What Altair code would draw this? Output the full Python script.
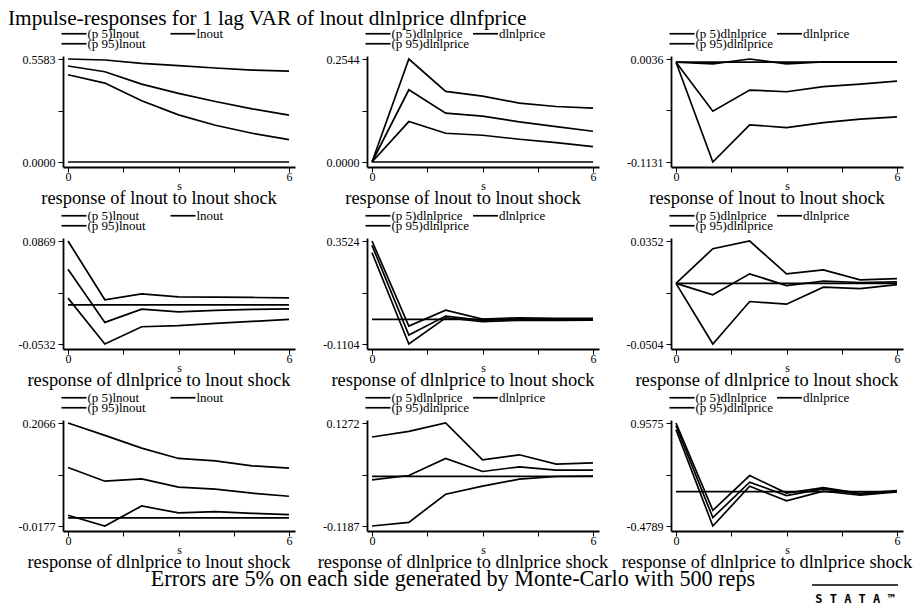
import altair as alt
import pandas as pd

steps = [0, 1, 2, 3, 4, 5, 6]

# panel order: row by row
resp_vars = ["lnout", "dlnlprice", "dlnlprice",
             "lnout", "dlnlprice", "dlnlprice",
             "lnout", "dlnlprice", "dlnlprice"]
panel_titles = ["response of lnout to lnout shock",
                "response of lnout to lnout shock",
                "response of lnout to lnout shock",
                "response of dlnlprice to lnout shock",
                "response of dlnlprice to lnout shock",
                "response of dlnlprice to lnout shock",
                "response of dlnlprice to lnout shock",
                "response of dlnlprice to dlnlprice shock",
                "response of dlnlprice to dlnlprice shock"]
y_min = [0.0000, 0.0000, -0.1131, -0.0532, -0.1104, -0.0504, -0.0177, -0.1187, -0.4789]
y_max = [0.5583, 0.2544, 0.0036, 0.0869, 0.3524, 0.0352, 0.2066, 0.1272, 0.9575]

p1_lo = [0.4731, 0.4278, 0.3317, 0.2556, 0.1994, 0.1559, 0.1214]
p1_mid = [0.5202, 0.4894, 0.4224, 0.3716, 0.3281, 0.2882, 0.2538]
p1_hi = [0.5583, 0.5529, 0.5347, 0.5220, 0.5094, 0.4985, 0.4930]

p2_lo = [0.0, 0.0999, 0.0710, 0.0661, 0.0562, 0.0479, 0.0380]
p2_mid = [0.0, 0.1784, 0.1206, 0.1132, 0.0991, 0.0876, 0.0760]
p2_hi = [0.0, 0.2544, 0.1743, 0.1627, 0.1454, 0.1371, 0.1330]

p3_lo = [0.0, -0.1131, -0.0710, -0.0741, -0.0684, -0.0646, -0.0620]
p3_mid = [0.0, -0.0555, -0.0316, -0.0335, -0.0278, -0.0248, -0.0214]
p3_hi = [0.0, -0.0020, 0.0036, -0.0020, 0.0003, 0.0005, 0.0005]

p4_lo = [0.0092, -0.0532, -0.0297, -0.0283, -0.0252, -0.0225, -0.0198]
p4_mid = [0.0485, -0.0238, -0.0057, -0.0094, -0.0075, -0.0062, -0.0053]
p4_hi = [0.0869, 0.0069, 0.0150, 0.0110, 0.0105, 0.0101, 0.0096]

p5_lo = [0.3001, -0.1104, 0.0075, -0.0100, -0.0040, -0.0040, -0.0029]
p5_mid = [0.3330, -0.0701, 0.0150, -0.0040, 0.0016, 0.0000, 0.0016]
p5_hi = [0.3524, -0.0298, 0.0419, 0.0016, 0.0075, 0.0050, 0.0050]

p6_lo = [0.0, -0.0504, -0.0151, -0.0173, -0.0032, -0.0043, -0.0010]
p6_mid = [0.0, -0.0095, 0.0079, -0.0018, 0.0018, 0.0007, 0.0012]
p6_hi = [0.0, 0.0288, 0.0352, 0.0079, 0.0112, 0.0029, 0.0040]

p7_lo = [0.0056, -0.0177, 0.0260, 0.0107, 0.0136, 0.0100, 0.0071]
p7_mid = [0.1097, 0.0799, 0.0850, 0.0668, 0.0624, 0.0537, 0.0471]
p7_hi = [0.2066, 0.1797, 0.1520, 0.1294, 0.1243, 0.1134, 0.1083]

p8_lo = [-0.1187, -0.1099, -0.0429, -0.0237, -0.0069, -0.0005, 0.0005]
p8_mid = [-0.0085, 0.0019, 0.0426, 0.0114, 0.0226, 0.0146, 0.0146]
p8_hi = [0.0937, 0.1072, 0.1272, 0.0394, 0.0513, 0.0290, 0.0322]

p9_lo = [0.864, -0.4789, 0.076, -0.129, 0.006, -0.050, -0.004]
p9_mid = [0.920, -0.362, 0.132, -0.054, 0.038, -0.036, 0.006]
p9_hi = [0.9575, -0.260, 0.225, -0.019, 0.057, -0.025, 0.015]

panels_lo = [p1_lo, p2_lo, p3_lo, p4_lo, p5_lo, p6_lo, p7_lo, p8_lo, p9_lo]
panels_mid = [p1_mid, p2_mid, p3_mid, p4_mid, p5_mid, p6_mid, p7_mid, p8_mid, p9_mid]
panels_hi = [p1_hi, p2_hi, p3_hi, p4_hi, p5_hi, p6_hi, p7_hi, p8_hi, p9_hi]

main_title = "Impulse-responses for 1 lag VAR of lnout dlnlprice dlnfprice"
note_text = "Errors are 5% on each side generated by Monte-Carlo with 500 reps"
logo_text = "S T A T A \u2122"

SERIF = "Liberation Serif"
W, H = 232, 111
LW = 1.7


def legend_params(legend_y, col_pad):
    return dict(orient="none", legendX=4.5, legendY=legend_y, columns=2,
                direction="horizontal", padding=0, title=None,
                symbolType="M-3.125,0H3.125", symbolSize=64, symbolStrokeWidth=LW,
                symbolFillColor="transparent", labelOffset=7, symbolOffset=0,
                columnPadding=col_pad, labelFont=SERIF, labelFontSize=13,
                labelColor="black")


def panel(i):
    v = resp_vars[i]
    mid_label = v if v == "lnout" else "\u00a0" + v
    names = [f"(p 5){v}", mid_label, f"(p 95){v}"]
    rows = []
    for name, arr in zip(names, [panels_lo[i], panels_mid[i], panels_hi[i]]):
        for s, val in zip(steps, arr):
            rows.append({"s": s, "v": val, "series": name})
    df = pd.DataFrame(rows)
    lo, hi = y_min[i], y_max[i]
    r = hi - lo
    ydom = [lo - r * 5 / 103, hi + r * 3 / 103]
    yvals = [lo + r * k / 4 for k in range(5)]
    xdom = [steps[0] - 0.136, steps[-1] + 0.163]
    col2pad = 27 if v == "lnout" else 5.5
    x_enc = alt.X("s:Q", scale=alt.Scale(domain=xdom, nice=False, zero=False),
                  axis=alt.Axis(values=[0, 1.5, 3, 4.5, 6], title="s", titlePadding=-2,
                                labelPadding=-1,
                                labelExpr="datum.value == 0 || datum.value == 6 ? datum.label : ''"))
    y_enc = alt.Y("v:Q", scale=alt.Scale(domain=ydom, nice=False, zero=False),
                  axis=alt.Axis(values=yvals, title=None, labelPadding=3,
                                labelExpr="datum.index == 0 || datum.index == 1 ? replace(format(datum.value, '.4f'), '\u2212', '-') : ''"))
    base = alt.Chart(df)
    lines_a = base.transform_filter(
        alt.FieldOneOfPredicate(field="series", oneOf=names[:2])
    ).mark_line(strokeWidth=LW).encode(
        x=x_enc, y=y_enc,
        color=alt.Color("series:N", sort=names[:2],
                        scale=alt.Scale(domain=names[:2], range=["black", "black"]),
                        legend=alt.Legend(**legend_params(-29, col2pad))),
    )
    lines_b = base.transform_filter(
        alt.FieldEqualPredicate(field="series", equal=names[2])
    ).mark_line(strokeWidth=LW).encode(
        x=alt.X("s:Q"), y=alt.Y("v:Q"),
        stroke=alt.Stroke("series:N",
                          scale=alt.Scale(domain=names[2:], range=["black"]),
                          legend=alt.Legend(**legend_params(-19, col2pad))),
    )
    zero_df = pd.DataFrame({"s": [steps[0]], "s2": [steps[-1]], "v": [0.0]})
    zero = alt.Chart(zero_df).mark_rule(strokeWidth=LW, color="black").encode(
        x=alt.X("s:Q"), x2="s2:Q", y=alt.Y("v:Q"))
    return alt.layer(lines_a, lines_b, zero).properties(
        width=W, height=H,
        title=alt.TitleParams(panel_titles[i], orient="bottom", anchor="middle", frame="group",
                              dx=-20, offset=-2.5, font=SERIF, fontSize=18.4, fontWeight="normal",
                              color="black"))


grid = alt.concat(*[panel(i) for i in range(9)], columns=3,
                  spacing={"row": 71, "column": 72}, bounds="flush").resolve_scale(
    color="independent", stroke="independent").resolve_legend(
    color="independent", stroke="independent")

note_df = pd.DataFrame({"t": [note_text], "logo": [logo_text]})
note_base = alt.Chart(note_df)
note_txt = note_base.mark_text(font=SERIF, fontSize=22.2, color="black", baseline="middle").encode(
    text="t:N")
logo_txt = note_base.mark_text(font="DejaVu Sans Mono", fontSize=12, fontWeight="bold",
                               color="black", align="center", baseline="middle").encode(
    text="logo:N", x=alt.value(792), y=alt.value(28))
logo_rule = note_base.mark_rule(color="black", strokeWidth=1.5).encode(
    x=alt.value(749), x2=alt.value(835), y=alt.value(14))
note = alt.layer(note_txt, logo_txt, logo_rule).properties(width=780, height=16)

chart = alt.vconcat(grid, note, spacing=-7).resolve_scale(
    color="independent", stroke="independent").resolve_legend(
    color="independent", stroke="independent").properties(
    title=alt.TitleParams(main_title, anchor="start", frame="group", dx=-55, dy=-3, offset=-5.5,
                          font=SERIF, fontSize=21.3, fontWeight="normal", color="black"),
    padding={"left": 8, "top": 8, "right": 0, "bottom": 0},
    background="white",
).configure_view(stroke=None).configure_axis(
    domainColor="black", domainWidth=1.8, tickColor="black", tickWidth=1, tickSize=5,
    labelFont=SERIF, labelFontSize=12, labelColor="black", labelPadding=2,
    titleFont=SERIF, titleFontSize=12, titleFontWeight="normal", titleColor="black",
    grid=False,
)

chart.save("out.html", embed_options={"renderer": "svg", "actions": False})
